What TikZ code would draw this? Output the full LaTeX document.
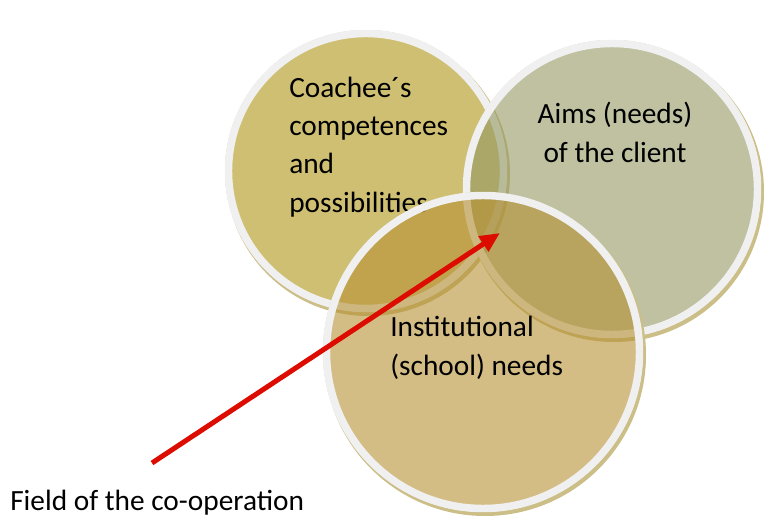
\documentclass[tikz,border=0pt]{standalone}
\usepackage{fontspec}
\setmainfont{Carlito}
\usetikzlibrary{arrows.meta}

\definecolor{coacheefill}{RGB}{175,148,20}
\definecolor{aimsfill}{RGB}{148,152,97}
\definecolor{instfill}{RGB}{182,145,52}
\definecolor{ringshadow}{RGB}{204,190,135}
\definecolor{arrowred}{RGB}{220,12,0}

\tikzset{
  venn/.style={fill opacity=0.6, draw=white!94!black, line width=5.6pt},
  vennshadow/.style={fill=ringshadow, even odd rule, draw=none},
  venntext/.style={font=\fontsize{22pt}{28.6pt}\selectfont, inner sep=0pt}
}

\begin{document}
\begin{tikzpicture}[x=0.75pt, y=-0.75pt]

\useasboundingbox (0,0) rectangle (764,517);

% Kreis 1: Coachee
\fill[vennshadow] (368,174) circle (142) (366,171) circle (141);
\draw[venn, fill=coacheefill] (366,171) circle (137.5);
\node[venntext, anchor=base west, align=left] (coachee) at (289,212)
  {Coachee´s\\competences\\and\\possibilities};

% Kreis 2: Aims
\fill[vennshadow] (614,192) circle (150) (612,189) circle (149);
\draw[venn, fill=aimsfill] (612,189) circle (145.5);
\node[venntext, anchor=base, align=center] (aims) at (615,162)
  {Aims (needs)\\of the client};

% Kreis 3: Institution
\fill[vennshadow] (485,355) circle (161) (483,352) circle (160);
\draw[venn, fill=instfill] (483,352) circle (156.5);
\node[venntext, anchor=base west, align=left] (inst) at (390,375)
  {Institutional\\(school) needs};

% Pfeil
\coordinate (tail) at (152,463);
\coordinate (tip) at (500,233);
\draw[arrowred, line width=3.75pt, -{Triangle[length=15pt, width=13pt]}] (tail) -- (tip);

\node[venntext, anchor=base west] (field) at (10,510) {Field of the co-operation};

\end{tikzpicture}
\end{document}
